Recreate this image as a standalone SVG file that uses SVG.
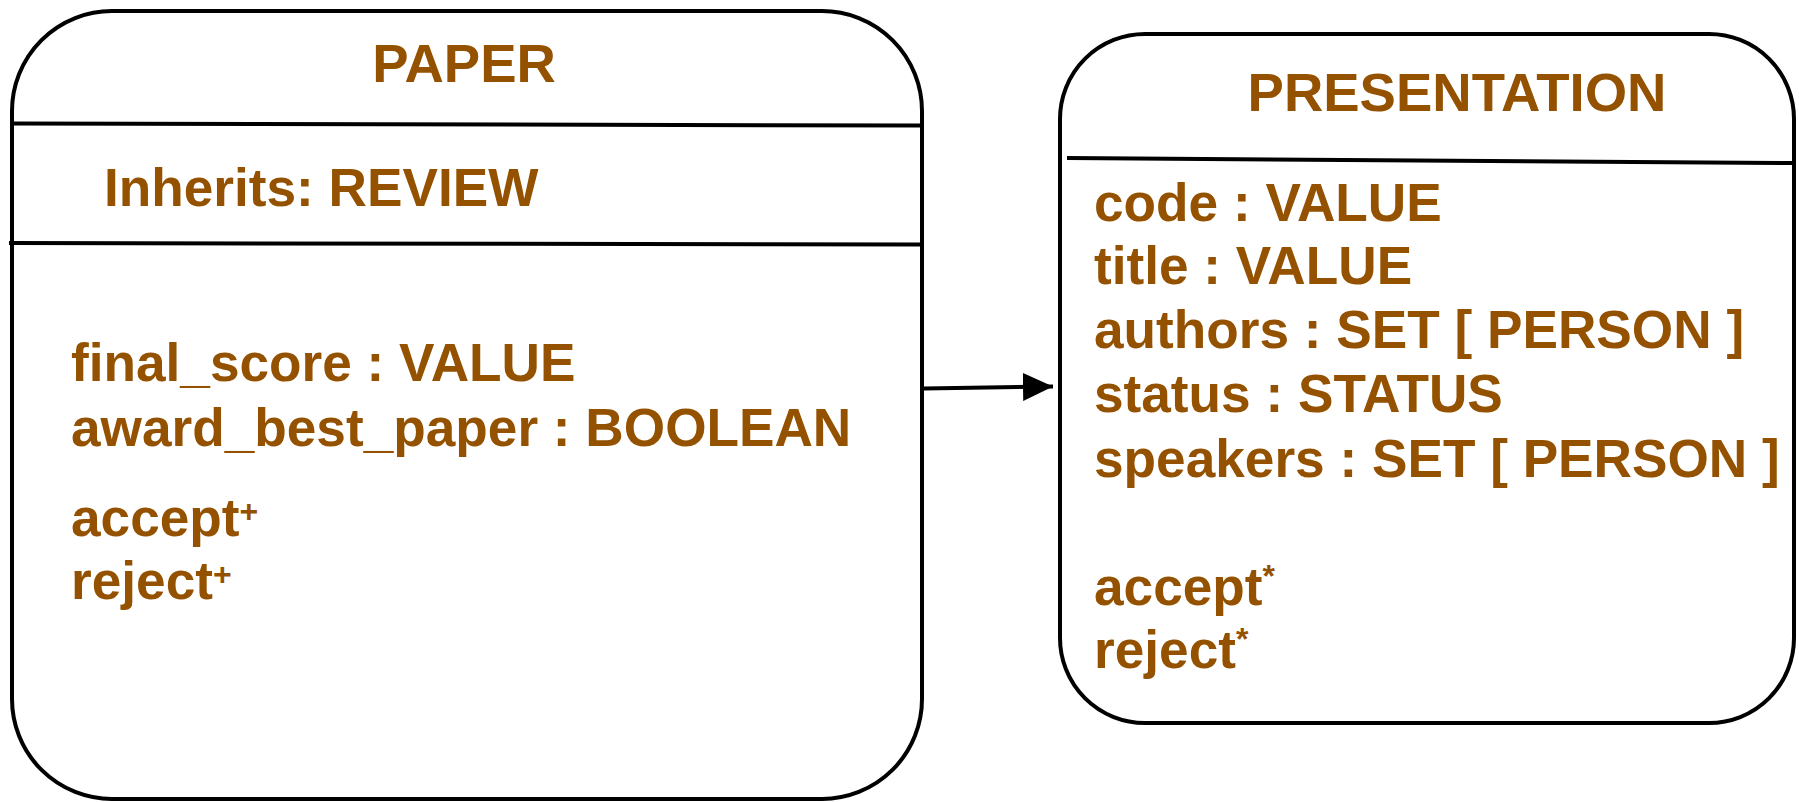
<svg xmlns="http://www.w3.org/2000/svg" width="1799" height="802" viewBox="0 0 1799 802">
  <style>
    .box { fill: #ffffff; stroke: #000000; stroke-width: 4; }
    .sep { stroke: #000000; stroke-width: 4; fill: none; }
    .t { font-family: "Liberation Sans", Arial, Helvetica, sans-serif; font-weight: bold; font-size: 53.2px; fill: #945200; }
    .title { text-anchor: middle; font-size: 54.5px; }
    .sup { font-size: 32px; }
    .edge { stroke: #000000; stroke-width: 4; fill: none; }
  </style>
  <defs>
    <marker id="arrow" markerUnits="userSpaceOnUse" markerWidth="32" markerHeight="30" refX="30" refY="14" orient="auto">
      <path d="M0,0 L30,14 L0,28 Z" fill="#000000"/>
    </marker>
  </defs>
  <rect width="1799" height="802" fill="#ffffff"/>

  <!-- Connector: PAPER -> PRESENTATION -->
  <g id="connectors">
    <path class="edge" d="M924,388.5 L1053,386.5" marker-end="url(#arrow)"/>
  </g>

  <!-- PAPER class -->
  <g id="paper">
    <rect class="box" x="12" y="11" width="910" height="788" rx="100" ry="100"/>
    <line class="sep" x1="12" y1="123.5" x2="922" y2="125.5"/>
    <line class="sep" x1="9" y1="243" x2="922" y2="244.5"/>
    <text class="t title" x="464" y="82">PAPER</text>
    <text class="t" x="104" y="206">Inherits: REVIEW</text>
    <text class="t" x="71" y="381">final_score : VALUE</text>
    <text class="t" x="71" y="446">award_best_paper : BOOLEAN</text>
    <text class="t" x="71" y="536">accept<tspan class="sup" dy="-14">+</tspan></text>
    <text class="t" x="71" y="599">reject<tspan class="sup" dy="-14">+</tspan></text>
  </g>

  <!-- PRESENTATION class -->
  <g id="presentation">
    <rect class="box" x="1060" y="34" width="734" height="689" rx="85" ry="85"/>
    <line class="sep" x1="1067" y1="158" x2="1794" y2="163"/>
    <text class="t title" x="1457" y="111">PRESENTATION</text>
    <text class="t" x="1094" y="221">code : VALUE</text>
    <text class="t" x="1094" y="284">title : VALUE</text>
    <text class="t" x="1094" y="348">authors : SET [ PERSON ]</text>
    <text class="t" x="1094" y="412">status : STATUS</text>
    <text class="t" x="1094" y="477">speakers : SET [ PERSON ]</text>
    <text class="t" x="1094" y="605">accept<tspan class="sup" dy="-18">*</tspan></text>
    <text class="t" x="1094" y="668">reject<tspan class="sup" dy="-18">*</tspan></text>
  </g>
</svg>
